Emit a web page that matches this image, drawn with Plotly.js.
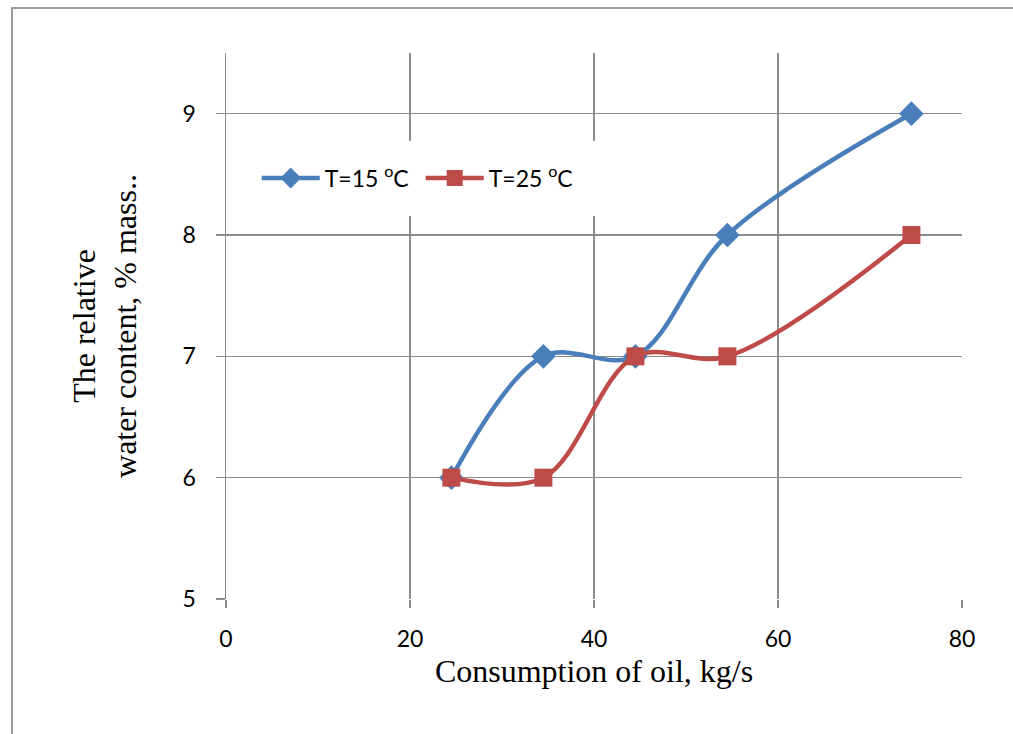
<!DOCTYPE html>
<html>
<head>
<meta charset="utf-8">
<script src="https://cdn.plot.ly/plotly-3.0.1.min.js"></script>
<style>
  html, body { margin: 0; padding: 0; background: #fff; }
  #wrap { position: relative; width: 1013px; height: 734px; overflow: hidden; }
  #chart { width: 1013px; height: 734px; }
  #frame { position: absolute; left: 11px; top: 7px; width: 1100px; height: 900px;
           border-left: 2px solid #9a9a9a; border-top: 2px solid #9a9a9a; pointer-events: none; }
</style>
</head>
<body>
<div id="wrap">
  <div id="chart"></div>
  <div id="frame"></div>
</div>
<script>
// Data
const oilConsumption = [24.5, 34.5, 44.5, 54.5, 74.5];
const water15 = [6, 7, 7, 8, 9];
const water25 = [6, 6, 7, 7, 8];
const seriesNames = ['T=15 <sup>o</sup>C', 'T=25 <sup>o</sup>C'];
const xTicks = [0, 20, 40, 60, 80];
const yTicks = [5, 6, 7, 8, 9];

const traces = [
  {
    x: oilConsumption, y: water15, name: seriesNames[0],
    type: 'scatter', mode: 'lines+markers',
    line: { color: '#4A7EBB', width: 4.5, shape: 'spline', smoothing: 1 },
    marker: { symbol: 'diamond', size: 19, color: '#4A7EBB' }
  },
  {
    x: oilConsumption, y: water25, name: seriesNames[1],
    type: 'scatter', mode: 'lines+markers',
    line: { color: '#BE4B48', width: 4.5, shape: 'spline', smoothing: 1 },
    marker: { symbol: 'square', size: 18, color: '#BE4B48' }
  }
];

const gridColor = '#8c8c8c';
const sansFamily = 'Lato, Carlito, "Open Sans", sans-serif';
const tickFont = { family: sansFamily, size: 23, color: '#000' };
const titleFont = { family: '"Liberation Serif", "Times New Roman", serif', size: 32, color: '#000' };

const layout = {
  width: 1013, height: 734,
  margin: { l: 226, r: 51, t: 53, b: 135 },
  paper_bgcolor: 'rgba(0,0,0,0)', plot_bgcolor: '#fff',
  showlegend: true,
  legend: {
    orientation: 'h', x: 0.02, xanchor: 'left', y: 0.771, yanchor: 'middle',
    bgcolor: '#fff', bordercolor: '#fff', borderwidth: 16,
    font: { family: sansFamily, size: 23, color: '#000' },
    itemwidth: 58, entrywidth: 91, entrywidthmode: 'pixels'
  },
  xaxis: {
    range: [0, 80], tickvals: xTicks, ticktext: xTicks.map(String),
    showgrid: true, gridcolor: gridColor, gridwidth: 1.5,
    zeroline: false, showline: false,
    ticks: 'outside', ticklen: 8, tickwidth: 1.5, tickcolor: gridColor,
    ticklabelstandoff: 11,
    tickfont: tickFont,
    title: { text: 'Consumption of oil, kg/s', font: titleFont, standoff: 9 },
    fixedrange: true
  },
  yaxis: {
    range: [5, 9.5], tickvals: yTicks, ticktext: yTicks.map(String),
    showgrid: true, gridcolor: gridColor, gridwidth: 1.5,
    zeroline: false, showline: true, linecolor: gridColor, linewidth: 1.5,
    ticks: 'outside', ticklen: 9, tickwidth: 1.5, tickcolor: gridColor,
    ticklabelstandoff: 15,
    tickfont: tickFont,
    title: { text: 'The relative<br>water content, % mass..', font: titleFont, standoff: 36 },
    fixedrange: true
  }
};

Plotly.newPlot('chart', traces, layout, { displayModeBar: false, staticPlot: true });
</script>
</body>
</html>
